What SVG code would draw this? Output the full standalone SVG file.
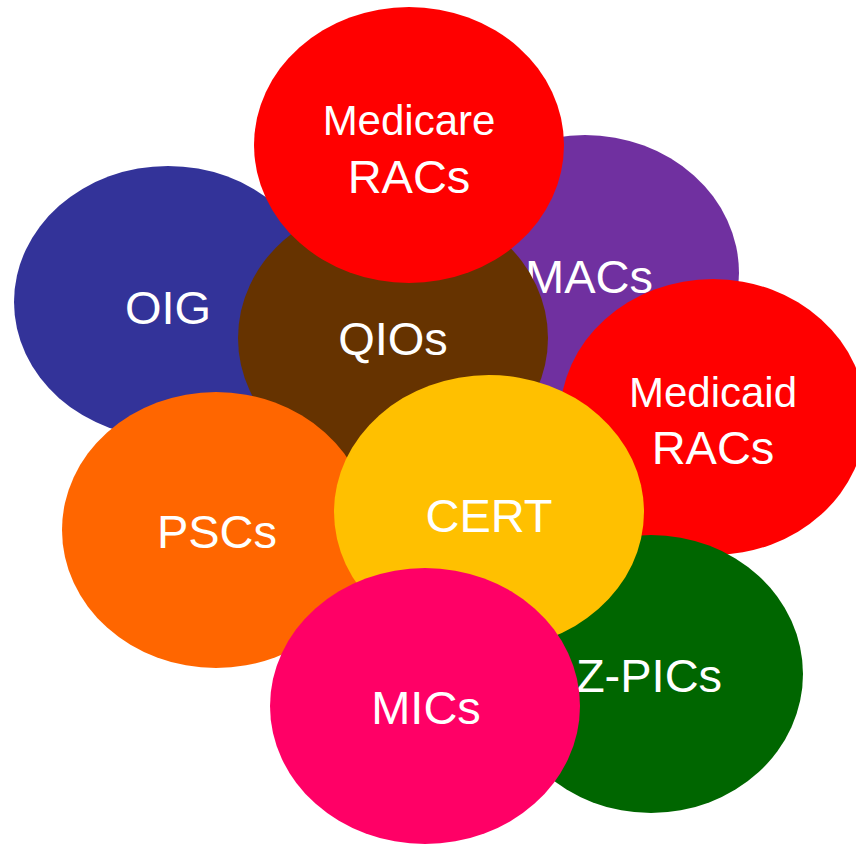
<svg xmlns="http://www.w3.org/2000/svg" width="856" height="844" viewBox="0 0 856 844">
  <style>
    .lbl { font-family: "Liberation Sans", Arial, sans-serif; font-size: 47px; fill: #ffffff; text-anchor: middle; }
    .sm { font-size: 42px; }
  </style>
  <rect width="856" height="844" fill="#ffffff"/>
  <!-- painted back to front: later ovals overlap earlier ones -->
  <g id="oig">
    <ellipse cx="168" cy="302" rx="154" ry="136" fill="#333399"/>
    <text class="lbl" x="168" y="324">OIG</text>
  </g>
  <g id="macs">
    <ellipse cx="585" cy="273" rx="154" ry="138" fill="#7030A0"/>
    <text class="lbl" x="589" y="293">MACs</text>
  </g>
  <g id="qios">
    <ellipse cx="393" cy="338" rx="155" ry="138" fill="#663300"/>
    <text class="lbl" x="393" y="355">QIOs</text>
  </g>
  <g id="medicare-racs">
    <ellipse cx="409" cy="145" rx="155" ry="138" fill="#FF0000"/>
    <text class="lbl sm" x="409" y="135">Medicare</text>
    <text class="lbl" x="409" y="193">RACs</text>
  </g>
  <g id="medicaid-racs">
    <ellipse cx="713" cy="417" rx="153" ry="138" fill="#FF0000"/>
    <text class="lbl sm" x="713" y="407">Medicaid</text>
    <text class="lbl" x="713" y="464">RACs</text>
  </g>
  <g id="zpics">
    <ellipse cx="651" cy="674" rx="152" ry="139" fill="#006600"/>
    <text class="lbl" x="649" y="692">Z-PICs</text>
  </g>
  <g id="pscs">
    <ellipse cx="216" cy="530" rx="154" ry="138" fill="#FF6600"/>
    <text class="lbl" x="217" y="548">PSCs</text>
  </g>
  <g id="cert">
    <ellipse cx="489" cy="512" rx="155" ry="137" fill="#FFC000"/>
    <text class="lbl" x="489" y="532">CERT</text>
  </g>
  <g id="mics">
    <ellipse cx="425" cy="706" rx="155" ry="138" fill="#FF0066"/>
    <text class="lbl" x="426" y="724">MICs</text>
  </g>
</svg>
